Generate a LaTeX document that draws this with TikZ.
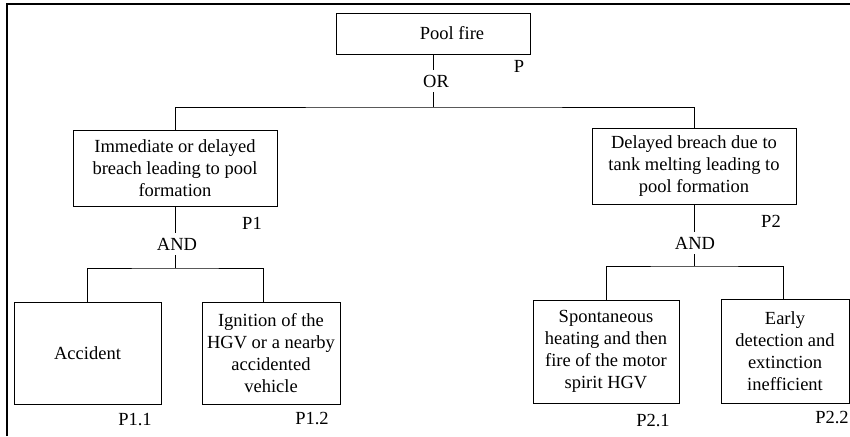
\documentclass[tikz,border=0pt]{standalone}
\usepackage{fontspec}
\setmainfont{Liberation Serif}
\newfontfamily\tnr{Liberation Serif}
\begin{document}
\begin{tikzpicture}[x=1pt,y=-1pt,
  txt/.style={font=\tnr\fontsize{18.5}{22}\selectfont},
  box/.style={txt, draw, line width=0.9pt, align=center, inner sep=0pt},
  gate/.style={txt, inner sep=0pt, minimum height=22pt},
  lbl/.style={txt, inner sep=0pt},
  conn/.style={line width=0.9pt}]
\useasboundingbox (0,0) rectangle (850,436);
\draw[line width=2pt] (7,436) -- (7,3.7) -- (850,3.7);

% boxes
\node[box, minimum width=194pt, minimum height=41pt] (pool) at (433,33.5) {\hspace*{38pt}Pool fire};
\node[box, minimum width=204pt, minimum height=76pt] (p1) at (175,168) {Immediate or delayed\\breach leading to pool\\formation};
\node[box, minimum width=204pt, minimum height=76pt] (p2) at (694,166) {Delayed breach due to\\tank melting leading to\\pool formation};
\node[box, minimum width=147pt, minimum height=102pt] (acc) at (87.5,353) {Accident};
\node[box, minimum width=138pt, minimum height=102pt] (ign) at (271,353) {Ignition of the\\HGV or a nearby\\accidented\\vehicle};
\node[box, minimum width=146pt, minimum height=103pt] (spo) at (606,351.5) {Spontaneous\\heating and then\\fire of the motor\\spirit HGV};
\node[box, minimum width=128pt, minimum height=104pt] (ear) at (785,351) {Early\\detection and\\extinction\\inefficient};

% gates
\node[gate] (or) at (436,81) {OR};
\node[gate] (and1) at (177,244) {AND};
\node[gate] (and2) at (695,243) {AND};

% labels
\node[lbl] (lp) at (519,66) {P};
\node[lbl] (lp1) at (252,223) {P1};
\node[lbl] (lp2) at (771,221) {P2};
\node[lbl] (lp11) at (135,420) {P1.1};
\node[lbl] (lp12) at (312,418) {P1.2};
\node[lbl] (lp21) at (653,420) {P2.1};
\node[lbl] (lp22) at (832,417) {P2.2};

% junctions
\coordinate (orbar) at (433,107);
\coordinate (j1) at (175,268);
\coordinate (j2) at (694,266);

% connectors
\draw[conn] (pool.south) -- (pool.south |- or.north);
\draw[conn] (pool.south |- or.south) -- (orbar);
\draw[conn] (p1.north) |- (orbar) -| (p2.north);

\draw[conn] (p1.south) -- (p1.south |- and1.north);
\draw[conn] (p1.south |- and1.south) -- (j1);
\draw[conn] (acc.north) |- (j1) -| ([xshift=-8pt]ign.north);

\draw[conn] (p2.south) -- (p2.south |- and2.north);
\draw[conn] (p2.south |- and2.south) -- (j2);
\draw[conn] (spo.north) |- (j2) -| ([xshift=-2pt]ear.north);
\end{tikzpicture}
\end{document}
